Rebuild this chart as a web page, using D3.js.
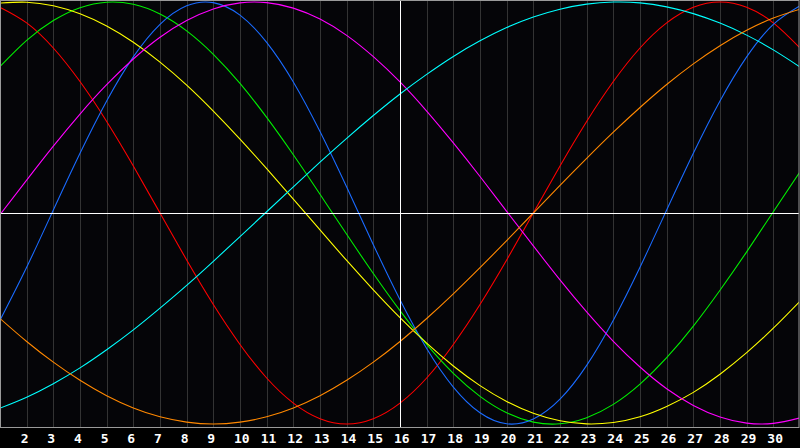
<!DOCTYPE html>
<html>
<head>
<meta charset="utf-8">
<script src="https://cdn.jsdelivr.net/npm/d3@7"></script>
<style>
  body { margin: 0; background: #000; overflow: hidden; }
  .daylabel { font-family: "DejaVu Sans Mono", monospace; font-weight: bold; font-size: 13px; fill: #fff; }
</style>
</head>
<body>
<svg id="chart"></svg>
<script>
var width = 800;
var height = 448;

// days of the month shown on the axis
const days = d3.range(1, 32);
const dayLabels = d3.range(2, 31);
const markerDay = 16;

// values in percent, one per day (1..31)
const red = [97.5, 90.1, 78.2, 62.3, 43.4, 22.3, 0, -22.3, -43.4, -62.3, -78.2, -90.1, -97.5, -100, -97.5, -90.1,
    -78.2, -62.3, -43.4, -22.3, 0, 22.3, 43.4, 62.3, 78.2, 90.1, 97.5, 100, 97.5, 90.1, 78.2];
const green = [69.4, 81.8, 91.2, 97.3, 99.9, 98.9, 94.3, 86.3, 75.2, 61.4, 45.3, 27.6, 8.9, -10.1, -28.7, -46.3,
    -62.3, -76.0, -86.9, -94.7, -99.1, -99.9, -97.0, -90.7, -81.1, -68.6, -53.6, -36.6, -18.4, 0.6, 19.5];
const blue = [-50.8, -25.7, 1.4, 28.3, 53.1, 74.0, 89.4, 98.2, 99.7, 93.8, 80.9, 62.1, 38.6, 12.3, -15.0, -41.1,
    -64.2, -82.5, -94.7, -99.9, -97.6, -88.2, -72.2, -50.8, -25.7, 1.4, 28.3, 53.1, 74.0, 89.4, 98.2];
const yellow = [99.5, 99.9, 98.2, 94.4, 88.6, 80.9, 71.5, 60.6, 48.3, 35.0, 21.0, 6.6, -8.0, -22.5, -36.4, -49.6,
    -61.7, -72.5, -81.8, -89.3, -94.9, -98.5, -99.96, -99.3, -96.6, -91.7, -85.0, -76.4, -66.2, -54.6, -41.8];
const magenta = [-0.8, 15.6, 31.7, 46.9, 60.8, 73.0, 83.3, 91.2, 96.7, 99.6, 99.7, 97.1, 91.9, 84.2, 74.1, 62.1,
    48.3, 33.2, 17.3, 0.8, -15.6, -31.7, -46.9, -60.8, -73.0, -83.3, -91.2, -96.7, -99.6, -99.7, -97.1];
const cyan = [-92.5, -87.3, -80.9, -73.4, -64.8, -55.4, -45.1, -34.3, -22.9, -11.2, 0.6, 12.4, 24.1, 35.4, 46.2, 56.4,
    65.7, 74.2, 81.6, 87.9, 92.9, 96.6, 99.0, 99.97, 99.6, 97.7, 94.5, 90.0, 84.3, 77.3, 69.2];
const orange = [-50.0, -60.9, -70.7, -79.3, -86.6, -92.4, -96.6, -99.1, -100, -99.1, -96.6, -92.4, -86.6, -79.3, -70.7, -60.9,
    -50.0, -38.3, -25.9, -13.1, 0, 13.1, 25.9, 38.3, 50.0, 60.9, 70.7, 79.3, 86.6, 92.4, 96.6];

const series = [
    {name: "red", values: red, color: "#ff0000"},
    {name: "green", values: green, color: "#00ee00"},
    {name: "blue", values: blue, color: "#1a6bff"},
    {name: "yellow", values: yellow, color: "#ffff00"},
    {name: "magenta", values: magenta, color: "#ff00ff"},
    {name: "cyan", values: cyan, color: "#00ffff"},
    {name: "orange", values: orange, color: "#ff8800"},
];

const plotBottom = 427.5;

const my_svg = d3.select("#chart")
    .attr("width", width)
    .attr("height", height);

const x = d3.scaleLinear().domain([1, 31]).range([0, 800]);
const y = d3.scaleLinear().domain([-100, 100]).range([424, 2]);

my_svg.append("rect")
    .attr("x", 0).attr("y", 0)
    .attr("width", width).attr("height", height)
    .attr("fill", "#000");

my_svg.append("rect")
    .attr("x", 0.5).attr("y", 0.5)
    .attr("width", 799).attr("height", plotBottom - 0.5)
    .attr("fill", "#050508");

my_svg.append("clipPath").attr("id", "plotclip")
    .append("rect")
    .attr("x", 1).attr("y", 1)
    .attr("width", 798).attr("height", plotBottom - 1);

// vertical day grid
my_svg.append("g")
    .selectAll("line")
    .data(dayLabels.filter((d) => d != markerDay))
    .enter()
    .append("line")
    .attr("x1", (d) => Math.round(x(d)) + 0.5)
    .attr("x2", (d) => Math.round(x(d)) + 0.5)
    .attr("y1", 1)
    .attr("y2", plotBottom)
    .attr("stroke", "#333333")
    .attr("stroke-width", 1);

// curves
const line = d3.line()
    .x((v, i) => x(days[i]))
    .y((v) => y(v))
    .curve(d3.curveNatural);

my_svg.append("g")
    .attr("clip-path", "url(#plotclip)")
    .selectAll("path")
    .data(series)
    .enter()
    .append("path")
    .attr("d", (d) => line(d.values))
    .attr("fill", "none")
    .attr("stroke", (d) => d.color)
    .attr("stroke-width", 1.1);

// white cross at zero / marker day
my_svg.append("line")
    .attr("x1", 1).attr("x2", 799)
    .attr("y1", Math.round(y(0)) + 0.5).attr("y2", Math.round(y(0)) + 0.5)
    .attr("stroke", "#fff");
my_svg.append("line")
    .attr("x1", Math.round(x(markerDay)) + 0.5).attr("x2", Math.round(x(markerDay)) + 0.5)
    .attr("y1", 1).attr("y2", plotBottom)
    .attr("stroke", "#fff");

// frame
my_svg.append("rect")
    .attr("x", 0.5).attr("y", 0.5)
    .attr("width", 798.5).attr("height", plotBottom - 0.5)
    .attr("fill", "none")
    .attr("stroke", "#9a9a9a")
    .attr("stroke-width", 1);

// day numbers
my_svg.append("g")
    .selectAll("text")
    .data(dayLabels)
    .enter()
    .append("text")
    .attr("class", "daylabel")
    .attr("x", (d) => x(d) - 6)
    .attr("y", 443)
    .text((d) => d);
</script>
</body>
</html>
